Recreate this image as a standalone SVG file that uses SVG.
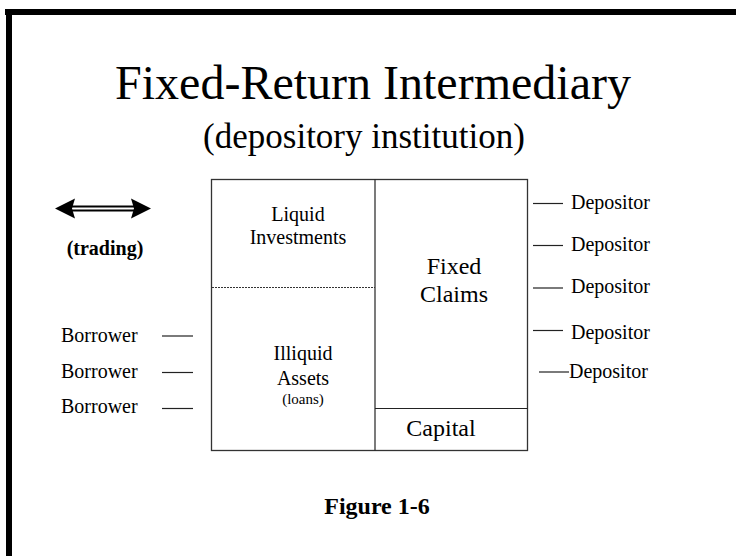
<svg xmlns="http://www.w3.org/2000/svg" width="736" height="556" viewBox="0 0 736 556">
  <style>
    text { font-family: "Liberation Serif", "Times New Roman", serif; fill: #000; }
    .c { text-anchor: middle; }
    .b { font-weight: bold; }
    .ln { stroke: #222; stroke-width: 1.2; fill: none; }
    .box { stroke: #333; stroke-width: 1.3; fill: #fff; }
  </style>
  <rect width="736" height="556" fill="#fff"/>
  <g id="frame">
    <rect x="5" y="9" width="731" height="6" fill="#000"/>
    <rect x="6" y="9" width="6" height="547" fill="#000"/>
  </g>
  <g id="title">
    <text class="c" x="373" y="99" font-size="48">Fixed-Return Intermediary</text>
    <text class="c" x="364" y="148" font-size="35">(depository institution)</text>
  </g>
  <g id="balance-sheet">
    <rect class="box" x="211.5" y="179.5" width="316" height="271"/>
    <line class="ln" x1="375" y1="179.5" x2="375" y2="450.5"/>
    <line x1="212" y1="287.5" x2="375" y2="287.5" stroke="#333" stroke-width="1" stroke-dasharray="2,1"/>
    <line class="ln" x1="375" y1="408.5" x2="527.5" y2="408.5"/>
  </g>
  <g id="liquid-investments">
    <text class="c" x="298" y="221" font-size="20">Liquid</text>
    <text class="c" x="298" y="244" font-size="20">Investments</text>
  </g>
  <g id="illiquid-assets">
    <text class="c" x="303" y="360" font-size="20">Illiquid</text>
    <text class="c" x="303" y="385" font-size="20">Assets</text>
    <text class="c" x="303" y="404" font-size="15">(loans)</text>
  </g>
  <g id="fixed-claims">
    <text class="c" x="454" y="274" font-size="24">Fixed</text>
    <text class="c" x="454" y="302" font-size="24">Claims</text>
  </g>
  <g id="capital">
    <text class="c" x="441" y="436" font-size="24">Capital</text>
  </g>
  <g id="trading">
    <line x1="70" y1="206.5" x2="136" y2="206.5" stroke="#000" stroke-width="1.8"/>
    <line x1="70" y1="210.5" x2="136" y2="210.5" stroke="#000" stroke-width="1.8"/>
    <polygon points="55,208.5 75,198.5 72,208.5 75,218.5" fill="#000"/>
    <polygon points="151,208.5 131,198.5 134,208.5 131,218.5" fill="#000"/>
    <text class="c b" x="105" y="255" font-size="20">(trading)</text>
  </g>
  <g id="borrowers">
    <text x="61" y="342" font-size="20">Borrower</text>
    <text x="61" y="378" font-size="20">Borrower</text>
    <text x="61" y="413" font-size="20">Borrower</text>
  </g>
  <g id="depositors">
    <text x="571" y="209" font-size="20">Depositor</text>
    <text x="571" y="251" font-size="20">Depositor</text>
    <text x="571" y="293" font-size="20">Depositor</text>
    <text x="571" y="339" font-size="20">Depositor</text>
    <text x="569" y="378" font-size="20">Depositor</text>
  </g>
  <g id="connectors">
    <line class="ln" x1="162" y1="336" x2="193" y2="336"/>
    <line class="ln" x1="162" y1="372.5" x2="193" y2="372.5"/>
    <line class="ln" x1="162" y1="408.5" x2="193" y2="408.5"/>
    <line class="ln" x1="533" y1="203.5" x2="563" y2="203.5"/>
    <line class="ln" x1="533" y1="245.5" x2="563" y2="245.5"/>
    <line class="ln" x1="533" y1="288" x2="563" y2="288"/>
    <line class="ln" x1="533" y1="330.5" x2="563" y2="330.5"/>
    <line class="ln" x1="539" y1="372" x2="569" y2="372"/>
  </g>
  <g id="caption">
    <text class="c b" x="377" y="514" font-size="24">Figure 1-6</text>
  </g>
</svg>
